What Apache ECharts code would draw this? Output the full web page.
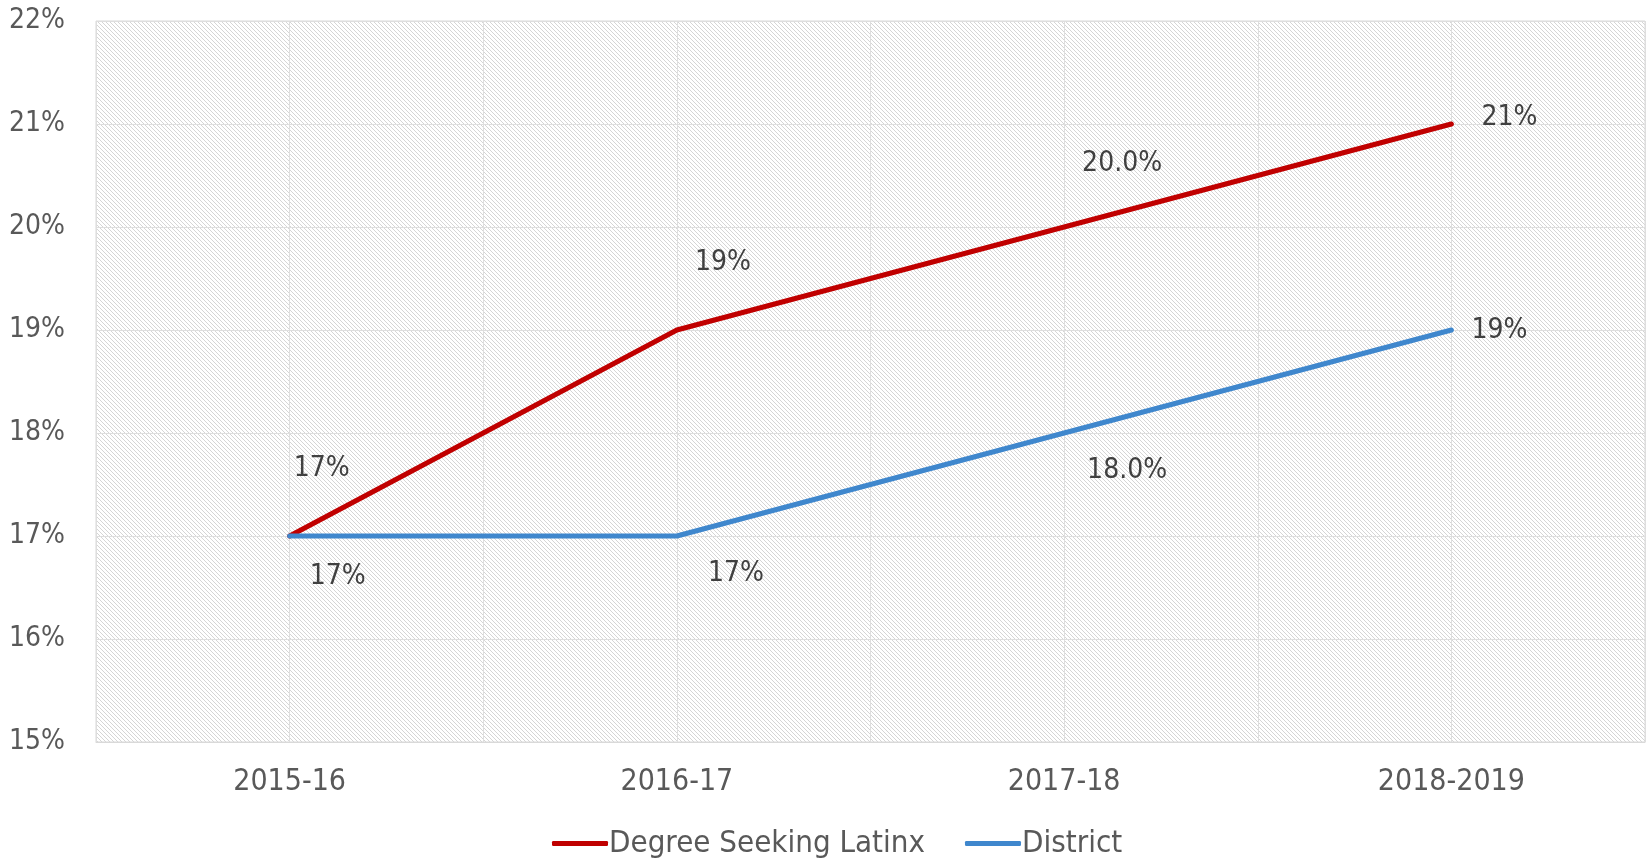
<!DOCTYPE html>
<html>
<head>
<meta charset="utf-8">
<script src="https://cdn.jsdelivr.net/npm/echarts@6/dist/echarts.min.js"></script>
<style>
  html, body { margin: 0; padding: 0; background: #fff; }
  #chart { width: 1650px; height: 859px; }
</style>
</head>
<body>
<div id="chart"></div>
<script>
// data
var years = ['2015-16', '2016-17', '2017-18', '2018-2019'];
var latinxValues = [17, 19, 20, 21];
var districtValues = [17, 17, 18, 19];
var latinxLabels = ['17%', '19%', '20.0%', '21%'];
var districtLabels = ['17%', '17%', '18.0%', '19%'];
var yTicks = [15, 16, 17, 18, 19, 20, 21, 22];

// label offsets (layout only)
var latinxOffsets = [[32, -67], [46, -67], [58, -63], [58, -6]];
var districtOffsets = [[48, 41], [59, 38], [63, 38], [48, 1]];

var FONT = '"DejaVu Sans Condensed", "DejaVu Sans", sans-serif';

// hatch background, like the excel downward diagonal fill
function makeHatch() {
    var c = document.createElement('canvas');
    c.width = 4;
    c.height = 4;
    var ctx = c.getContext('2d');
    ctx.fillStyle = '#ffffff';
    ctx.fillRect(0, 0, 4, 4);
    ctx.fillStyle = '#d5d5d5';
    for (var i = 0; i < 4; i++) {
        ctx.fillRect(i, i, 1, 1);
    }
    return c;
}

function buildData(values, labels, offsets) {
    return values.map(function (v, i) {
        return {
            value: v,
            label: { formatter: labels[i], offset: offsets[i] }
        };
    });
}

// 8 slots so split lines fall on both the category centres and boundaries
var halfSlots = [];
years.forEach(function (y) { halfSlots.push(y + 'a', y + 'b'); });

var chart = echarts.init(document.getElementById('chart'));

chart.setOption({
    animation: false,
    backgroundColor: '#ffffff',
    grid: {
        left: 96, right: 5, top: 21, bottom: 117,
        show: true,
        backgroundColor: { image: makeHatch(), repeat: 'repeat' },
        borderColor: '#d9d9d9',
        borderWidth: 1
    },
    legend: {
        left: 547,
        top: 823,
        itemWidth: 56,
        itemHeight: 5,
        itemGap: 40,
        icon: 'roundRect',
        textStyle: { fontFamily: FONT, fontSize: 31, color: '#595959', padding: [0, 0, 0, -4] },
        data: ['Degree Seeking Latinx', 'District']
    },
    xAxis: [{
        type: 'category',
        data: years,
        boundaryGap: true,
        axisLine: { show: true, lineStyle: { color: '#d9d9d9' } },
        axisTick: { show: false },
        splitLine: { show: false },
        axisLabel: { fontFamily: FONT, fontSize: 30, color: '#595959', margin: 25 }
    }, {
        type: 'category',
        data: halfSlots,
        boundaryGap: true,
        axisLine: { show: false },
        axisTick: { show: false },
        axisLabel: { show: false },
        splitLine: { show: true, interval: 0, lineStyle: { color: '#dedede', width: 1 } }
    }],
    yAxis: {
        type: 'value',
        min: yTicks[0],
        max: yTicks[yTicks.length - 1],
        interval: 1,
        axisLine: { show: false },
        axisTick: { show: false },
        splitLine: { show: true, lineStyle: { color: '#dedede', width: 1 } },
        axisLabel: {
            fontFamily: FONT, fontSize: 28, color: '#595959', margin: 31,
            formatter: function (v) { return v + '%'; }
        }
    },
    series: [{
        name: 'Degree Seeking Latinx',
        type: 'line',
        data: buildData(latinxValues, latinxLabels, latinxOffsets),
        symbol: 'circle',
        symbolSize: 0.1,
        lineStyle: { color: '#c00000', width: 5, cap: 'round' },
        itemStyle: { color: '#c00000' },
        label: { show: true, position: 'inside', fontFamily: FONT, fontSize: 28, color: '#404040' },
        z: 3
    }, {
        name: 'District',
        type: 'line',
        data: buildData(districtValues, districtLabels, districtOffsets),
        symbol: 'circle',
        symbolSize: 0.1,
        lineStyle: { color: '#3f87cd', width: 5, cap: 'round' },
        itemStyle: { color: '#3f87cd' },
        label: { show: true, position: 'inside', fontFamily: FONT, fontSize: 28, color: '#404040' },
        z: 4
    }]
});
</script>
</body>
</html>
